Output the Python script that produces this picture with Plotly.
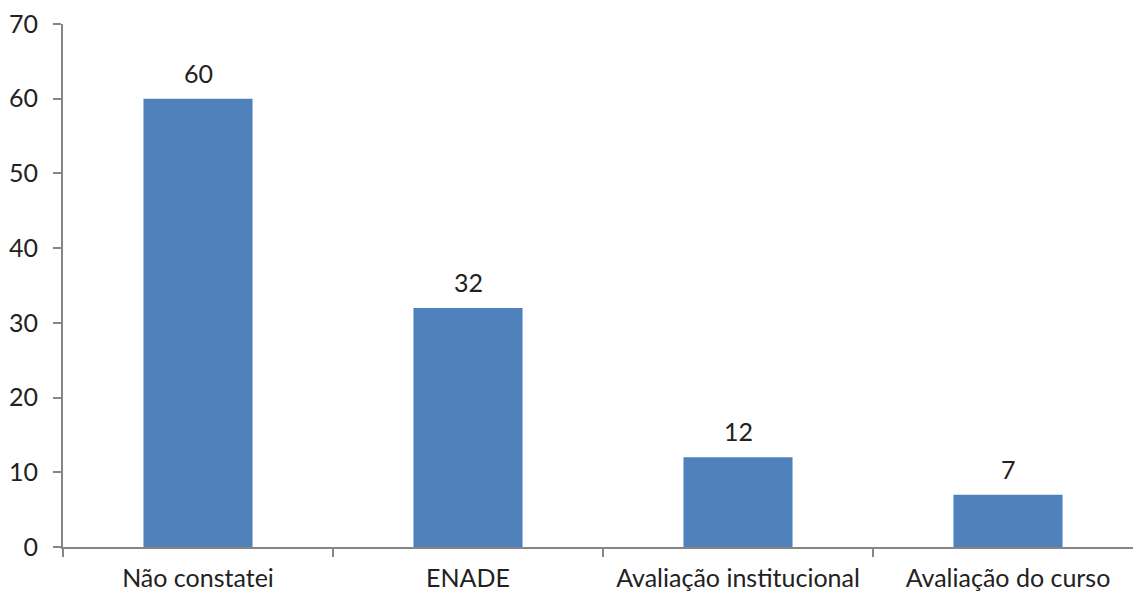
import plotly.graph_objects as go

categorias = ["Não constatei", "ENADE", "Avaliação institucional", "Avaliação do curso"]
valores = [60, 32, 12, 7]
y_ticks = [0, 10, 20, 30, 40, 50, 60, 70]

cor_barra = "#4F81BD"
cor_eixo = "#868686"
fonte = dict(family="Lato, 'Open Sans', sans-serif", size=25, color="#222222")

fig = go.Figure()
fig.add_trace(go.Bar(
    x=categorias,
    y=valores,
    marker=dict(color=cor_barra, line=dict(width=0)),
    hoverinfo="x+y",
))

# data labels above each bar
for c, v in zip(categorias, valores):
    fig.add_annotation(
        x=c, y=v, text=str(v), showarrow=False,
        yanchor="bottom", yshift=9, font=fonte,
    )

fig.update_layout(
    width=1133, height=592,
    margin=dict(l=63, r=0, t=24, b=45),
    plot_bgcolor="white", paper_bgcolor="white",
    bargap=0.596,
    showlegend=False,
    font=fonte,
)
fig.update_xaxes(
    type="category",
    range=[-0.5, -0.5 + 1070 / 270],
    showline=True, linecolor=cor_eixo, linewidth=2,
    ticks="outside", tickson="boundaries", ticklen=8, tickcolor=cor_eixo, tickwidth=2,
    showgrid=False, zeroline=False,
    tickfont=fonte, ticklabelstandoff=8,
)
fig.update_yaxes(
    range=[0, 70], tickvals=y_ticks,
    showline=True, linecolor=cor_eixo, linewidth=2,
    ticks="outside", ticklen=8, tickcolor=cor_eixo, tickwidth=2,
    showgrid=False, zeroline=False,
    tickfont=fonte, ticklabelstandoff=10,
)

fig.write_html("out.html")
